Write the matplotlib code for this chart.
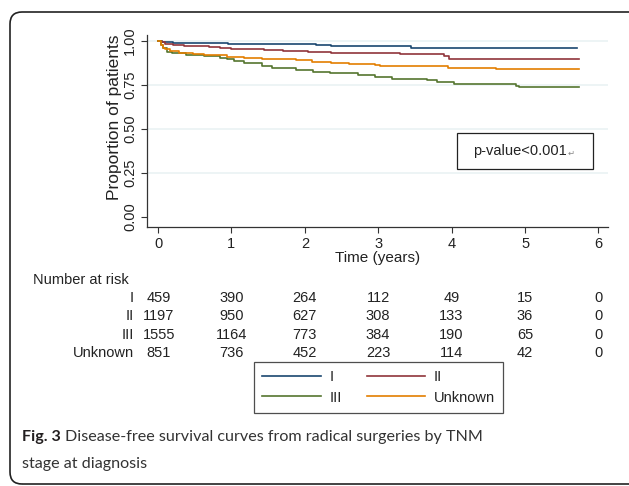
import matplotlib
matplotlib.use("Agg")
import matplotlib.pyplot as plt
from matplotlib.patches import FancyBboxPatch, Rectangle
from matplotlib.transforms import IdentityTransform
from matplotlib.lines import Line2D
from matplotlib import font_manager

# Kaplan-Meier curves (time in years, survival proportion)
t_I = [0, 0.06, 0.2, 0.85, 0.95, 2.15, 2.35, 3.45, 5.71]
s_I = [1.0, 0.993, 0.989, 0.984, 0.979, 0.976, 0.972, 0.958, 0.958]

t_II = [0, 0.05, 0.1, 0.2, 0.35, 0.5, 0.7, 0.85, 1.0, 1.2, 1.45, 1.7, 1.9,
        2.05, 2.35, 2.6, 3.3, 3.9, 3.97, 5.74]
s_II = [1.0, 0.99, 0.981, 0.975, 0.972, 0.968, 0.964, 0.96, 0.955, 0.952,
        0.948, 0.944, 0.941, 0.936, 0.932, 0.930, 0.922, 0.913, 0.898, 0.898]

t_III = [0, 0.04, 0.07, 0.12, 0.19, 0.38, 0.62, 0.84, 0.94, 1.03, 1.17, 1.41,
         1.55, 1.88, 2.11, 2.34, 2.72, 2.95, 3.19, 3.66, 3.8, 4.03, 4.88, 4.92, 5.74]
s_III = [1.0, 0.975, 0.956, 0.936, 0.928, 0.92, 0.915, 0.903, 0.894, 0.883,
         0.871, 0.856, 0.843, 0.833, 0.824, 0.814, 0.803, 0.792, 0.78, 0.777,
         0.765, 0.754, 0.744, 0.739, 0.739]

t_unk = [0, 0.04, 0.07, 0.1, 0.16, 0.28, 0.47, 0.62, 0.94, 1.17, 1.42, 1.88,
         2.1, 2.35, 2.6, 2.95, 3.02, 3.95, 4.6, 5.74]
s_unk = [1.0, 0.975, 0.96, 0.95, 0.941, 0.932, 0.922, 0.917, 0.909, 0.903,
         0.896, 0.89, 0.881, 0.875, 0.866, 0.862, 0.856, 0.847, 0.837, 0.837]

groups = ["I", "II", "III", "Unknown"]
colors = ["#1a476f", "#90353b", "#55752f", "#e37e00"]

# number at risk table
risk_times = [0, 1, 2, 3, 4, 5, 6]
risk_I = [459, 390, 264, 112, 49, 15, 0]
risk_II = [1197, 950, 627, 308, 133, 36, 0]
risk_III = [1555, 1164, 773, 384, 190, 65, 0]
risk_unk = [851, 736, 452, 223, 114, 42, 0]

W, H = 629, 486
plt.rcParams['font.family'] = ['Liberation Sans', 'DejaVu Sans']

fig = plt.figure(figsize=(W / 100, H / 100), dpi=100)

def fx(px):
    return px / W

def fy(py):
    return 1 - py / H

# outer rounded frame
frame = FancyBboxPatch((10, 2), 640, 472, boxstyle="round,pad=0,rounding_size=12",
                       transform=IdentityTransform(), fill=False,
                       edgecolor="#222222", linewidth=1.2)
fig.patches.append(frame)

# main plot axes
ax_l, ax_r, ax_t, ax_b = 147, 608, 35.4, 227.3
ax = fig.add_axes([fx(ax_l), fy(ax_b), (ax_r - ax_l) / W, (ax_b - ax_t) / H])

curves = [(t_I, s_I), (t_II, s_II), (t_III, s_III), (t_unk, s_unk)]
for (t, s), c, g in zip(curves, colors, groups):
    ax.step(t, s, where="post", color=c, lw=1.2, label=g, zorder=3)

ax.set_xlim(-0.15, 6.13)
ax.set_ylim(-0.06, 1.03)
ax.set_xticks(risk_times)
ax.set_yticks([0, 0.25, 0.5, 0.75, 1.0])
ax.set_yticklabels(["0.00", "0.25", "0.50", "0.75", "1.00"], rotation=90, va="center")
for yv in [0.25, 0.5, 0.75, 1.0]:
    ax.axhline(yv, color="#eaf2f3", lw=1.2, zorder=1)
for sp in ["top", "right"]:
    ax.spines[sp].set_visible(False)
for sp in ["left", "bottom"]:
    ax.spines[sp].set_color("#333333")
    ax.spines[sp].set_linewidth(0.9)
ax.tick_params(axis="both", direction="out", length=4, width=0.8, color="#333333",
               labelsize=10.5, labelcolor="#222222", pad=3)
ax.set_xlabel("Time (years)", fontsize=11, color="#222222", labelpad=0)
fig.text(fx(114), fy(117), "Proportion of patients", rotation=90, ha="center", va="center",
         fontsize=12.5, color="#222222")

# p-value box
fig.patches.append(Rectangle((fx(457), fy(169)), (593 - 457) / W, (169 - 133) / H,
                             transform=fig.transFigure, fill=False,
                             edgecolor="#222222", lw=0.9))
pv = fig.text(fx(473), fy(151), "p-value<0.001", ha="left", va="center",
              fontsize=10.5, color="#222222")
fig.canvas.draw()
bb = pv.get_window_extent()
fig.text((bb.x1 + 1) / W, fy(153), "\u21b5", ha="left", va="center",
         fontsize=6, color="#888888", family=["DejaVu Sans"])

# number at risk table
x0_px = 158
px_per_year = (598.3 - 158) / 6
fig.text(fx(33), fy(280), "Number at risk", ha="left", va="center",
         fontsize=10.5, color="#222222")
rows = [risk_I, risk_II, risk_III, risk_unk]
row_y = [297.7, 316.2, 334.7, 353.2]
for g, vals, yy in zip(groups, rows, row_y):
    fig.text(fx(134), fy(yy), g, ha="right", va="center", fontsize=10.5, color="#222222")
    for i, (tt, v) in enumerate(zip(risk_times, vals)):
        xx = x0_px + tt * px_per_year
        if i == 0:
            xx = 159
        fig.text(fx(xx), fy(yy), str(v), ha="center", va="center",
                 fontsize=10.5, color="#222222")

# legend: matplotlib fills by column, so order I, III | II, Unknown
order = [0, 2, 1, 3]
handles = [Line2D([], [], color=colors[i], lw=1.2) for i in order]
labels = [groups[i] for i in order]
leg = fig.legend(handles, labels, ncol=2, loc="upper left",
                 bbox_to_anchor=(fx(254.3), fy(362)), bbox_transform=fig.transFigure,
                 borderaxespad=0, fontsize=10.5, handlelength=4.0, handletextpad=0.6,
                 columnspacing=1.7, borderpad=0.55, labelspacing=0.45,
                 fancybox=False, frameon=True)
leg.get_frame().set_edgecolor("#222222")
leg.get_frame().set_linewidth(0.9)
for txt in leg.get_texts():
    txt.set_color("#222222")

# caption: use a narrow face if one is installed
names = {f.name for f in font_manager.fontManager.ttflist}
if "Liberation Sans Narrow" in names:
    cap_font, cap_size = ["Liberation Sans Narrow", "DejaVu Sans"], 14
else:
    cap_font, cap_size = ["Lato", "DejaVu Sans"], 11.6
cap1 = fig.text(fx(22), fy(437), "Fig. 3", ha="left", va="center", fontsize=cap_size,
                fontweight="bold", color="#231f20", family=cap_font)
fig.canvas.draw()
b1 = cap1.get_window_extent()
fig.text((b1.x1 + 4) / W, fy(437), "Disease-free survival curves from radical surgeries by TNM",
         ha="left", va="center", fontsize=cap_size, color="#333333", family=cap_font)
fig.text(fx(22), fy(464), "stage at diagnosis", ha="left", va="center", fontsize=cap_size,
         color="#333333", family=cap_font)

fig.savefig("out.png", dpi=100)
